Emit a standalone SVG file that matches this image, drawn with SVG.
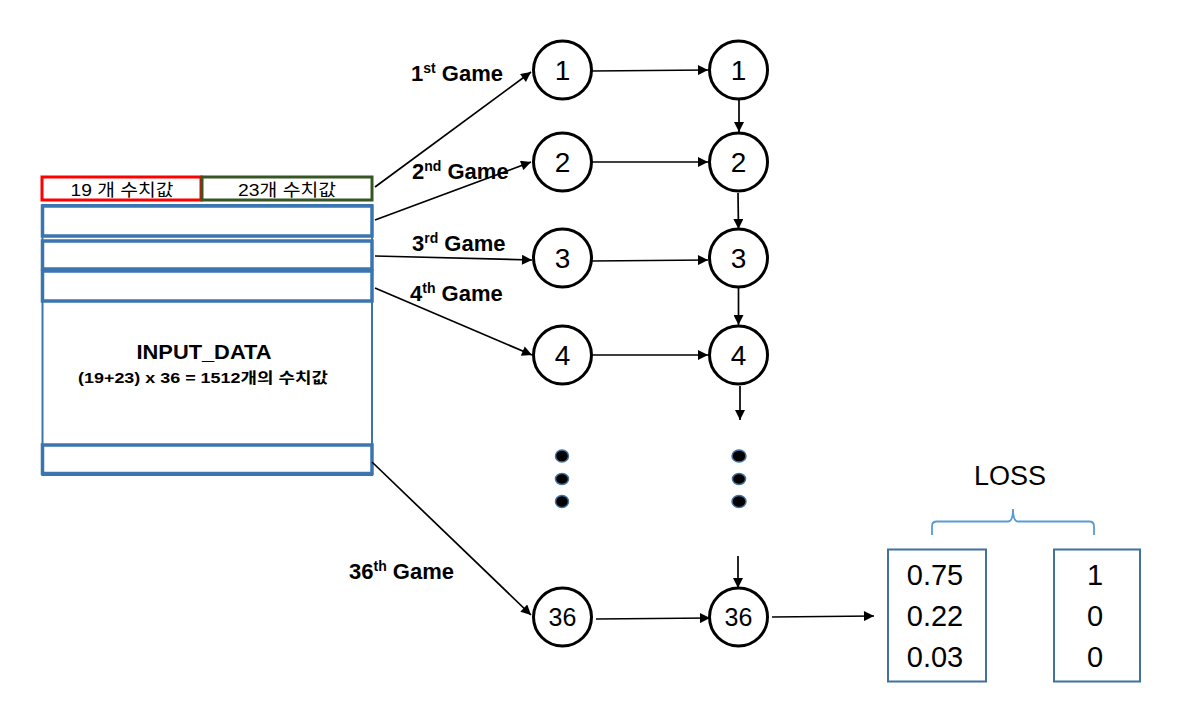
<svg xmlns="http://www.w3.org/2000/svg" width="1179" height="711" viewBox="0 0 1179 711">
<defs>
<marker id="arr" viewBox="0 0 10 10" refX="10" refY="5" markerWidth="11" markerHeight="10" markerUnits="userSpaceOnUse" orient="auto">
<path d="M0,0 L10,5 L0,10 Z" fill="#000"/>
</marker>
</defs>
<style>
.node circle{fill:#fff;stroke:#000;stroke-width:3}
.node text{font-family:"Liberation Sans",Arial,sans-serif;font-size:28px;text-anchor:middle;fill:#000}
.conn line{stroke:#000;stroke-width:1.7;marker-end:url(#arr)}
.lbl{font-family:"Liberation Sans",Arial,sans-serif;font-weight:bold;font-size:22px;fill:#000}
.sup{font-size:14px}
.row{fill:none;stroke:#3A75B0;stroke-width:3.5}
.dot{fill:#000;stroke:#41719C;stroke-width:1.5}
.val{font-family:"Liberation Sans",Arial,sans-serif;font-size:29px;text-anchor:middle;fill:#000}
.kr{font-family:"Liberation Sans","Noto Sans CJK KR",sans-serif}
</style>
<rect width="1179" height="711" fill="#fff"/>

<g id="input">
<rect x="42.5" y="205" width="329.5" height="270" fill="none" stroke="#3A75B0" stroke-width="2"/>
<rect class="row" x="42.5" y="206" width="329.5" height="30"/>
<rect class="row" x="42.5" y="241" width="329.5" height="28"/>
<rect class="row" x="42.5" y="271" width="329.5" height="30"/>
<rect class="row" x="42.5" y="445" width="329.5" height="28.5"/>
<rect x="42" y="177" width="159" height="23" fill="none" stroke="#FF0000" stroke-width="3"/>
<rect x="202" y="177" width="170" height="23" fill="none" stroke="#375623" stroke-width="3"/>
<text class="kr" x="122" y="196" font-size="17" text-anchor="middle" textLength="103" lengthAdjust="spacingAndGlyphs">19 개 수치값</text>
<text class="kr" x="287" y="196" font-size="17" text-anchor="middle" textLength="98" lengthAdjust="spacingAndGlyphs">23개 수치값</text>
<text x="204" y="359" font-family="Liberation Sans,Arial,sans-serif" font-weight="bold" font-size="20" text-anchor="middle" textLength="135" lengthAdjust="spacingAndGlyphs">INPUT_DATA</text>
<text class="kr" x="203" y="383" font-weight="bold" font-size="14.5" text-anchor="middle" textLength="250" lengthAdjust="spacingAndGlyphs">(19+23) x 36 = 1512개의 수치값</text>
</g>

<g id="labels">
<text class="lbl" x="411" y="81">1<tspan class="sup" dy="-8">st</tspan><tspan dy="8"> Game</tspan></text>
<text class="lbl" x="412" y="179">2<tspan class="sup" dy="-8">nd</tspan><tspan dy="8"> Game</tspan></text>
<text class="lbl" x="412" y="251">3<tspan class="sup" dy="-8">rd</tspan><tspan dy="8"> Game</tspan></text>
<text class="lbl" x="410" y="301">4<tspan class="sup" dy="-8">th</tspan><tspan dy="8"> Game</tspan></text>
<text class="lbl" x="349" y="579">36<tspan class="sup" dy="-8">th</tspan><tspan dy="8"> Game</tspan></text>
</g>

<g id="connectors" class="conn">
<line x1="375" y1="187" x2="531" y2="72"/>
<line x1="375" y1="220" x2="531" y2="162"/>
<line x1="375" y1="256" x2="532" y2="260"/>
<line x1="375" y1="288" x2="532" y2="355"/>
<line x1="372" y1="462" x2="531" y2="615"/>
<line x1="592" y1="71" x2="708" y2="70"/>
<line x1="592" y1="162" x2="708" y2="162"/>
<line x1="592" y1="261" x2="708" y2="260"/>
<line x1="592" y1="355" x2="708" y2="355"/>
<line x1="596" y1="619" x2="710" y2="618"/>
<line x1="739" y1="98" x2="739" y2="132"/>
<line x1="738" y1="193" x2="738.5" y2="229"/>
<line x1="738.5" y1="288" x2="738.5" y2="325"/>
<line x1="740" y1="386" x2="740" y2="420"/>
<line x1="738" y1="556" x2="738" y2="588"/>
<line x1="772" y1="617" x2="874" y2="616"/>
</g>

<g id="n1a" class="node"><circle cx="562.5" cy="70" r="29"/><text x="562.5" y="80">1</text></g>
<g id="n1b" class="node"><circle cx="738.5" cy="70" r="29"/><text x="738.5" y="80">1</text></g>
<g id="n2a" class="node"><circle cx="562.5" cy="162" r="29"/><text x="562.5" y="172">2</text></g>
<g id="n2b" class="node"><circle cx="738.5" cy="162" r="29"/><text x="738.5" y="172">2</text></g>
<g id="n3a" class="node"><circle cx="562.5" cy="258" r="29"/><text x="562.5" y="268">3</text></g>
<g id="n3b" class="node"><circle cx="738.5" cy="258" r="29"/><text x="738.5" y="268">3</text></g>
<g id="n4a" class="node"><circle cx="562.5" cy="355" r="29"/><text x="562.5" y="365">4</text></g>
<g id="n4b" class="node"><circle cx="738.5" cy="355" r="29"/><text x="738.5" y="365">4</text></g>
<g id="n36a" class="node"><circle cx="562.5" cy="617" r="29"/><text x="562.5" y="626" style="font-size:25px">36</text></g>
<g id="n36b" class="node"><circle cx="738.5" cy="617" r="29"/><text x="738.5" y="626" style="font-size:25px">36</text></g>

<g id="dots">
<ellipse class="dot" cx="562" cy="456" rx="6.5" ry="6"/>
<ellipse class="dot" cx="562" cy="479" rx="6.5" ry="5.5"/>
<ellipse class="dot" cx="562" cy="501.5" rx="6.5" ry="6"/>
<ellipse class="dot" cx="739" cy="456" rx="7" ry="6"/>
<ellipse class="dot" cx="739" cy="479" rx="6.5" ry="5.5"/>
<ellipse class="dot" cx="739" cy="501.5" rx="7" ry="6"/>
</g>

<g id="pred">
<rect x="888" y="549.5" width="98" height="132" fill="none" stroke="#41719C" stroke-width="2"/>
<text class="val" x="935" y="585">0.75</text>
<text class="val" x="935" y="626">0.22</text>
<text class="val" x="935" y="667">0.03</text>
</g>
<g id="target">
<rect x="1054" y="549.5" width="86" height="132" fill="none" stroke="#41719C" stroke-width="2"/>
<text class="val" x="1095" y="585">1</text>
<text class="val" x="1095" y="626">0</text>
<text class="val" x="1095" y="667">0</text>
</g>
<g id="loss">
<path d="M932,535 L932,526 Q932,521.5 937,521.5 L1008,521.5 Q1013,521.5 1013,509 Q1013,521.5 1018,521.5 L1089,521.5 Q1094,521.5 1094,526 L1094,535" fill="none" stroke="#5B9BD5" stroke-width="1.8"/>
<text x="1010" y="485" font-family="Liberation Sans,Arial,sans-serif" font-size="27" text-anchor="middle">LOSS</text>
</g>
</svg>
